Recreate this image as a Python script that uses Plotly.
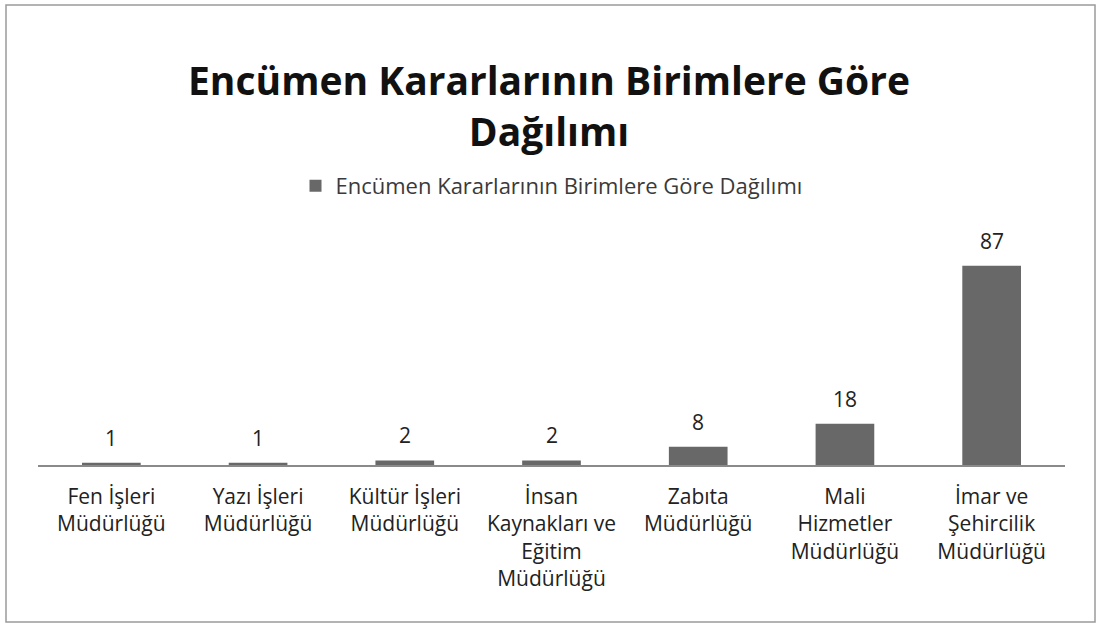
import plotly.graph_objects as go

# Chart content
title_text = "Encümen Kararlarının Birimlere Göre<br>Dağılımı"
series_name = "Encümen Kararlarının Birimlere Göre Dağılımı"
categories = [
    "Fen İşleri<br>Müdürlüğü",
    "Yazı İşleri<br>Müdürlüğü",
    "Kültür İşleri<br>Müdürlüğü",
    "İnsan<br>Kaynakları ve<br>Eğitim<br>Müdürlüğü",
    "Zabıta<br>Müdürlüğü",
    "Mali<br>Hizmetler<br>Müdürlüğü",
    "İmar ve<br>Şehircilik<br>Müdürlüğü",
]
values = [1, 1, 2, 2, 8, 18, 87]

W, H = 1098, 627
ML, MR, MT, MB = 38, 33, 236, 162
FONT = "'Open Sans', sans-serif"

fig = go.Figure()
fig.add_trace(go.Bar(
    x=categories,
    y=values,
    name=series_name,
    marker=dict(color="#686868", line=dict(width=0)),
    showlegend=True,
))

# Value labels above each bar
for cat, v in zip(categories, values):
    fig.add_annotation(
        x=cat, y=v, xref="x", yref="y",
        text=str(v), showarrow=False,
        yanchor="bottom", yshift=9,
        font=dict(size=21, color="#222222", family=FONT),
    )

pw = W - ML - MR
ph = H - MT - MB

# Outer frame around the whole chart
fig.add_shape(
    type="rect", xref="paper", yref="paper",
    x0=(6 - ML) / pw, x1=(1095 - ML) / pw,
    y0=(H - MB - 622) / ph, y1=(H - MB - 5) / ph,
    line=dict(color="#9a9a9a", width=1.5),
    fillcolor="rgba(0,0,0,0)",
)

fig.update_layout(
    width=W, height=H,
    margin=dict(l=ML, r=MR, t=MT, b=MB),
    paper_bgcolor="white",
    plot_bgcolor="white",
    font=dict(family=FONT, color="#222222"),
    title=dict(
        text=title_text,
        x=0.5, xanchor="center",
        y=1 - 95 / H, yanchor="top",
        font=dict(size=39, color="#111111", family=FONT, weight="bold"),
    ),
    showlegend=True,
    legend=dict(
        orientation="h",
        x=0.5, xanchor="center",
        y=1 - (165 - MT) / ph, yanchor="top",
        yref="paper",
        font=dict(size=22, color="#3a3a3a", family=FONT),
        itemwidth=30,
    ),
    bargap=0.6,
    xaxis=dict(
        showline=True, linecolor="#8a8a8a", linewidth=1.5,
        ticks="", showgrid=False,
        ticklabelstandoff=12,
        tickfont=dict(size=21, color="#222222", family=FONT),
    ),
    yaxis=dict(
        range=[0, 100], visible=False, showgrid=False, zeroline=False,
    ),
)

fig.write_html("out.html")
